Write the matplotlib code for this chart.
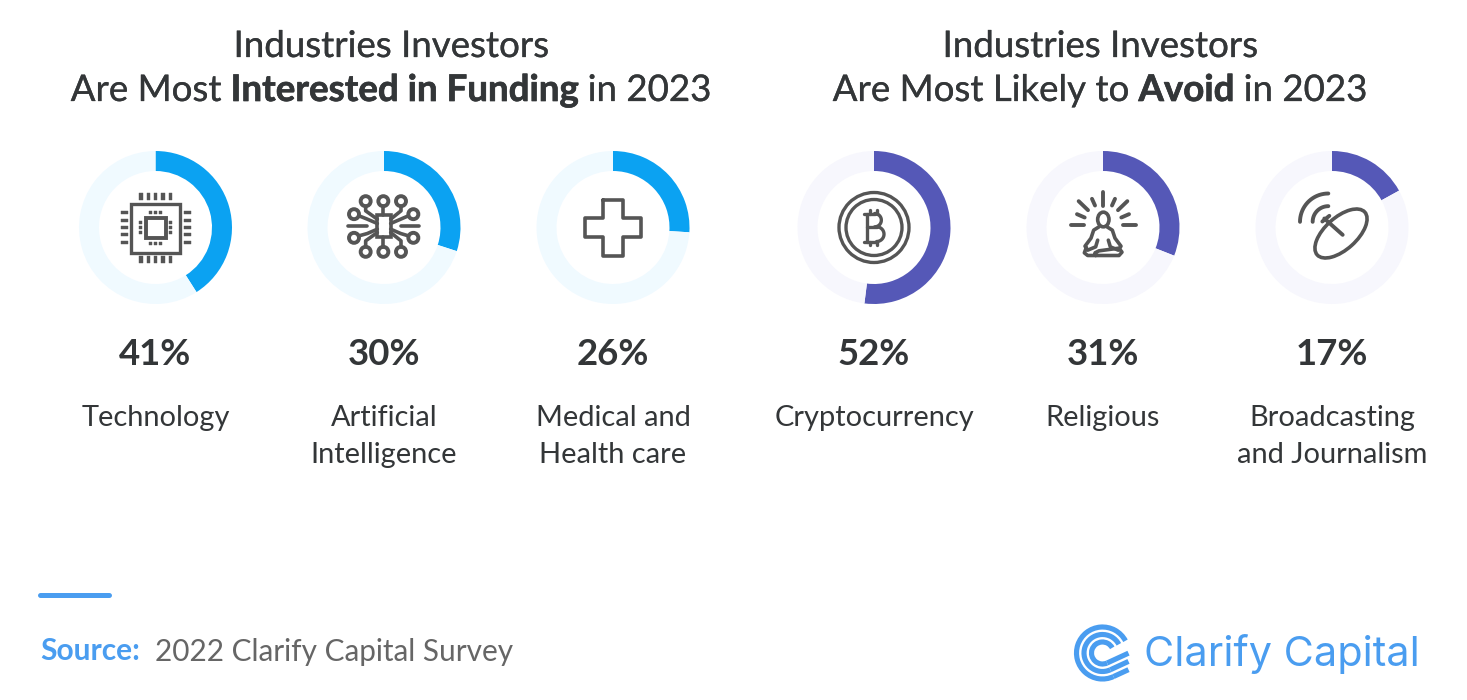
import numpy as np
import matplotlib
matplotlib.use("Agg")
import matplotlib.pyplot as plt
import matplotlib.patheffects as pe
from matplotlib.patches import Circle, Rectangle, Arc, Ellipse

W, H = 1467, 700

fund_labels = ["Technology", "Artificial\nIntelligence", "Medical and\nHealth care"]
fund_values = [41, 30, 26]
avoid_labels = ["Cryptocurrency", "Religious", "Broadcasting\nand Journalism"]
avoid_values = [52, 31, 17]

BLUE, BLUE_BG = "#0ba2f2", "#f0faff"
PURPLE, PURPLE_BG = "#5558b7", "#f7f7fd"
DARK = "#333638"
ICON = "#555555"
ACCENT = "#4a9df0"

plt.rcParams["font.family"] = ["Lato", "DejaVu Sans"]
fig = plt.figure(figsize=(W / 100, H / 100), dpi=100, facecolor="white")
ax = fig.add_axes([0, 0, 1, 1])
ax.set_xlim(0, W)
ax.set_ylim(H, 0)
ax.axis("off")


def mixed_title(cx, y, parts, size=26.4):
    # lay out regular / bold runs side by side, centred on cx
    r = fig.canvas.get_renderer()
    items = [ax.text(0, y, s, fontsize=size, color=DARK, fontweight=w, va="baseline", ha="left")
             for s, w in parts]
    widths = [t.get_window_extent(r).width for t in items]
    x = cx - sum(widths) / 2
    for (s, w), t, wd in zip(parts, items, widths):
        t.set_x(x)
        x += wd
        if w == "bold":
            # heavier still, the reference bold is close to black weight
            t.set_path_effects([pe.withStroke(linewidth=0.5, foreground=DARK)])
        else:
            # no Lato Medium installed, thicken the regular cut a little
            t.set_path_effects([pe.withStroke(linewidth=0.2, foreground=DARK)])


def donut(cx, value, color, bg):
    a = fig.add_axes([(cx - 80) / W, 1 - (227.5 + 80) / H, 160 / W, 160 / H])
    a.pie([value, 100 - value], colors=[color, bg], startangle=90, counterclock=False,
          radius=76.5, wedgeprops=dict(width=20, linewidth=0))
    a.set_xlim(-80, 80)
    a.set_ylim(-80, 80)
    a.set_aspect("equal")
    a.axis("off")


def seg(cx, pts, lw=2.4, cy=227.5):
    # pts are offsets in 1/3 px from the icon centre
    p = np.array(pts, dtype=float) / 3
    ax.plot(cx + p[:, 0], cy + p[:, 1], color=ICON, lw=lw, solid_capstyle="round",
            solid_joinstyle="round", zorder=3)


def ring(cx, dx, dy, r, lw=2.4, cy=227.5):
    ax.add_patch(Circle((cx + dx / 3, cy + dy / 3), r / 3, fill=False, ec=ICON, lw=lw, zorder=3))


def box(cx, x0, y0, x1, y1, lw=2.4, fill=False, cy=227.5):
    ax.add_patch(Rectangle((cx + x0 / 3, cy + y0 / 3), (x1 - x0) / 3, (y1 - y0) / 3, fill=fill,
                           fc=ICON, ec=ICON, lw=lw, zorder=3))


def icon_chip(cx):
    box(cx, -73, -72, 74, 75)
    box(cx, -30, -30, 32, 32, 2.8)
    for d in (-44, -22, 0, 22, 44):
        box(cx, d - 5, -104, d + 5, -82, 0.3, True)
        box(cx, d - 5, 84, d + 5, 106, 0.3, True)
        box(cx, -104, d - 5, -82, d + 5, 0.3, True)
        box(cx, 84, d - 5, 106, d + 5, 0.3, True)
    for d in (-15, 0, 15):
        box(cx, d - 4, -49, d + 4, -40, 0.3, True)
        box(cx, d - 4, 42, d + 4, 51, 0.3, True)
        box(cx, -49, d - 4, -40, d + 4, 0.3, True)
        box(cx, 40, d - 4, 49, d + 4, 0.3, True)


def icon_ai(cx):
    box(cx, -20, -37, 20, 28, 2.6)
    for x, y in [(-55, -79), (-2, -79), (51, -79), (-90, -40), (88, -40), (-90, 31), (88, 31),
                 (-55, 73), (-2, 73), (51, 73)]:
        ring(cx, x, y, 15, 2.8)
    seg(cx, [(-107, -4), (-50, -4)], 2.6)
    seg(cx, [(105, -4), (50, -4)], 2.6)
    seg(cx, [(-2, -64), (-2, -37)], 2.6)
    seg(cx, [(-2, 58), (-2, 28)], 2.6)
    seg(cx, [(-55, -64), (-55, -50), (-20, -25)], 2.6)
    seg(cx, [(51, -64), (51, -50), (20, -25)], 2.6)
    seg(cx, [(-55, 58), (-55, 40), (-20, 15)], 2.6)
    seg(cx, [(51, 58), (51, 40), (20, 15)], 2.6)
    seg(cx, [(-75, -35), (-50, -25), (-20, -12)], 2.6)
    seg(cx, [(73, -35), (50, -25), (20, -12)], 2.6)
    seg(cx, [(-75, 25), (-50, 18), (-20, 5)], 2.6)
    seg(cx, [(73, 25), (50, 18), (20, 5)], 2.6)


def icon_cross(cx):
    a, b = 29, 84
    seg(cx, [(-a, -b), (a, -b), (a, -a), (b, -a), (b, a), (a, a), (a, b), (-a, b), (-a, a), (-b, a),
             (-b, -a), (-a, -a), (-a, -b)], 2.6)


def icon_bitcoin(cx):
    ring(cx, 0, 0, 105)
    ring(cx, 0, 0, 84)
    seg(cx, [(-22, -42), (-22, 42)])
    seg(cx, [(-30, -42), (2, -42)])
    seg(cx, [(-22, -2), (8, -2)])
    seg(cx, [(-30, 42), (8, 42)])
    t = np.linspace(-np.pi / 2, np.pi / 2, 30)
    seg(cx, np.c_[2 + 20 * np.cos(t), -22 + 20 * np.sin(t)])
    seg(cx, np.c_[8 + 22 * np.cos(t), 20 + 22 * np.sin(t)])
    for x in (-12, 8):
        seg(cx, [(x, -52), (x, -42)])
        seg(cx, [(x, 42), (x, 52)])


def icon_meditate(cx):
    for p in [[(1, -107), (1, -64)], [(-73, -79), (-45, -52)], [(73, -79), (45, -52)],
              [(-33, -86), (-24, -66)], [(36, -86), (27, -66)], [(-78, -40), (-55, -30)],
              [(78, -40), (55, -30)], [(-96, -7), (-57, -7)], [(99, -7), (60, -7)]]:
        seg(cx, p, 2.8)
    ax.add_patch(Ellipse((cx + 1 / 3, 227.5 - 24 / 3), 34 / 3, 44 / 3, fill=False, ec=ICON, lw=2.6, zorder=3))
    for s in (-1, 1):
        seg(cx, [(s * 12, -2), (s * 28, 8), (s * 36, 32), (s * 54, 56), (s * 46, 68), (s * 22, 58),
                 (s * 16, 38)], 2.6)
    seg(cx, [(-50, 60), (-56, 76), (-46, 84), (48, 84), (57, 74), (48, 62), (-12, 70), (-24, 76), (-22, 84)], 2.6)


def icon_dish(cx):
    ax.add_patch(Ellipse((cx + 27 / 3, 227.5 + 18 / 3), 192 / 3, 96 / 3, angle=-42, fill=False,
                         ec=ICON, lw=2.6, zorder=3))
    seg(cx, [(-23, -27), (32, 22)], 2.8)
    seg(cx, [(-29, -18), (-8, -35)], 2.8)
    a = np.radians(np.linspace(180, 270, 20))
    seg(cx, np.c_[-11 + 85 * np.cos(a), -17 + 85 * np.sin(a)], 2.8)
    seg(cx, np.c_[-11 + 47 * np.cos(a), -17 + 47 * np.sin(a)], 2.8)


def logo(cx, cy):
    # three rings that run out into slanted tails
    for r in (26, 18.5, 11):
        ax.add_patch(Arc((cx, cy), 2 * r, 2 * r, theta1=65, theta2=332, color=ACCENT, lw=3.7, zorder=3))
        x0, y0 = r * np.cos(np.radians(65)), r * np.sin(np.radians(65))
        ax.plot([cx + x0, cx + 26], [cy + y0, cy + y0 - (26 - x0) * 0.46], color=ACCENT, lw=3.7,
                solid_capstyle="butt")


mixed_title(391, 57, [("Industries Investors", "normal")])
mixed_title(391, 101, [("Are Most ", "normal"), ("Interested in Funding", "bold"), (" in 2023", "normal")])
mixed_title(1100, 57, [("Industries Investors", "normal")])
mixed_title(1100, 101, [("Are Most Likely to ", "normal"), ("Avoid", "bold"), (" in 2023", "normal")])

centers_fund = [155.5, 384, 613]
centers_avoid = [874, 1103, 1332]
groups = [(centers_fund, fund_values, fund_labels, BLUE, BLUE_BG),
          (centers_avoid, avoid_values, avoid_labels, PURPLE, PURPLE_BG)]
for cs, vals, labs, col, bg in groups:
    for cx, v, lab in zip(cs, vals, labs):
        donut(cx, v, col, bg)
        ax.text(cx, 365, f"{v}%", fontsize=26.4, fontweight="bold", color=DARK, ha="center", va="baseline")
        ax.text(cx, 405, lab, fontsize=20.9, color=DARK, ha="center", va="top", linespacing=1.54)

icon_chip(centers_fund[0])
icon_ai(centers_fund[1])
icon_cross(centers_fund[2])
icon_bitcoin(centers_avoid[0])
icon_meditate(centers_avoid[1])
icon_dish(centers_avoid[2])

ax.plot([40, 109], [594.5, 594.5], color=ACCENT, lw=3.6, solid_capstyle="round")
ax.text(40, 660.5, "Source:", fontsize=21.5, fontweight="bold", color=ACCENT, va="baseline")
ax.text(155, 660.5, "2022 Clarify Capital Survey", fontsize=21.4, color="#666666", va="baseline")
logo(1102.5, 653)
ax.text(1144, 666, "Clarify Capital", fontsize=29.8, color=ACCENT, family=["Inter", "DejaVu Sans"], va="baseline")

fig.savefig("out.png", dpi=100, facecolor="white")
